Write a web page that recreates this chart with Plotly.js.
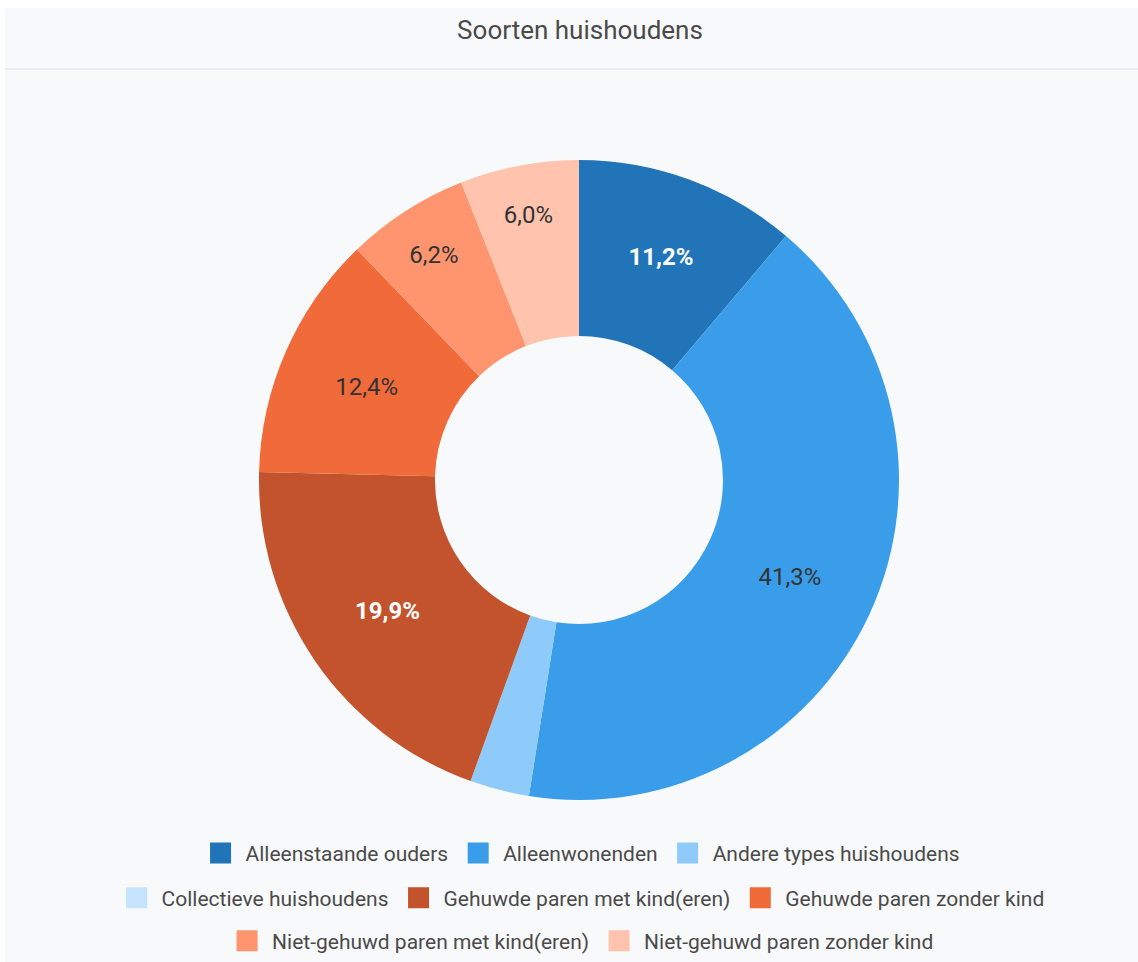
<!DOCTYPE html>
<html>
<head>
<meta charset="utf-8">
<script src="https://cdn.plot.ly/plotly-3.0.1.min.js"></script>
<style>
  body { margin: 0; background: #ffffff; }
  #card { position: absolute; left: 5px; top: 8px; width: 1133px; height: 954px; background: #f8f9fa; }
  #chart { position: absolute; left: 0; top: 0; width: 1133px; height: 954px; }
  #rule { position: absolute; left: 0; top: 60px; width: 1133px; height: 2px; background: #e9ebee; }
</style>
</head>
<body>
<div id="card">
  <div id="chart"></div>
  <div id="rule"></div>
</div>
<script>
// soorten huishoudens (percent)
const categories = [
    'Alleenstaande ouders',
    'Alleenwonenden',
    'Andere types huishoudens',
    'Collectieve huishoudens',
    'Gehuwde paren met kind(eren)',
    'Gehuwde paren zonder kind',
    'Niet-gehuwd paren met kind(eren)',
    'Niet-gehuwd paren zonder kind'
];
const shares = [11.2, 41.3, 3.0, 0.0, 19.9, 12.4, 6.2, 6.0];

// which legend row each category sits in
const legendRows = ['legend', 'legend', 'legend', 'legend2', 'legend2', 'legend2', 'legend3', 'legend3'];

const sliceColors = ['#2074b7', '#399de9', '#8fcbfa', '#c3e4fc', '#c2532d', '#f06a3a', '#fe956e', '#ffc3ae'];
const labelColors = ['#ffffff', '#333333', '#333333', '#333333', '#ffffff', '#333333', '#333333', '#333333'];

// small slices get no label, dark slices get bold white text
const textTemplates = shares.map((v, i) => {
    if (v < 5) return '';
    return labelColors[i] === '#ffffff' ? '<b>%{percent:.1%}</b>' : '%{percent:.1%}';
});

const data = [{
    type: 'pie',
    labels: categories,
    values: shares,
    sort: false,
    direction: 'clockwise',
    rotation: 0,
    hole: 0.45,
    marker: { colors: sliceColors, line: { width: 0 } },
    texttemplate: textTemplates,
    textposition: 'inside',
    insidetextorientation: 'horizontal',
    insidetextfont: { family: 'Roboto, sans-serif', size: 24, color: labelColors },
    hoverinfo: 'label+percent',
    showlegend: false,
    domain: { x: [0.2233, 0.7899], y: [0.1672, 0.8402] }
}];

// legend entries, one per category, split over three centred rows
categories.forEach((name, i) => {
    data.push({
        type: 'scatter',
        mode: 'markers',
        x: [null],
        y: [null],
        name: name,
        legend: legendRows[i],
        hoverinfo: 'skip',
        marker: { symbol: 'square', size: 16, color: sliceColors[i], line: { width: 5, color: sliceColors[i] } }
    });
});

const legendBase = {
    orientation: 'h',
    x: 0.508,
    xanchor: 'center',
    yanchor: 'middle',
    itemwidth: 40,
    font: { family: 'Roboto, sans-serif', size: 21, color: '#4a4a4a' },
    bgcolor: 'rgba(0,0,0,0)'
};

const layout = {
    width: 1133,
    height: 954,
    paper_bgcolor: '#f8f9fa',
    plot_bgcolor: '#f8f9fa',
    separators: ',.',
    margin: { l: 0, r: 0, t: 0, b: 0 },
    font: { family: 'Roboto, sans-serif', color: '#444444' },
    hovermode: 'closest',
    xaxis: { visible: false, range: [0, 1] },
    yaxis: { visible: false, range: [0, 1] },
    title: {
        text: 'Soorten huishoudens',
        font: { family: 'Roboto, sans-serif', size: 26, color: '#4a4a4a' },
        x: 0.5075,
        xref: 'paper',
        y: 0.977,
        yanchor: 'middle'
    },
    showlegend: true,
    legend: Object.assign({}, legendBase, { y: 0.1111 }),
    legend2: Object.assign({}, legendBase, { y: 0.0640 }),
    legend3: Object.assign({}, legendBase, { y: 0.0189 })
};

Plotly.newPlot('chart', data, layout, { displayModeBar: false, responsive: false });
</script>
</body>
</html>
